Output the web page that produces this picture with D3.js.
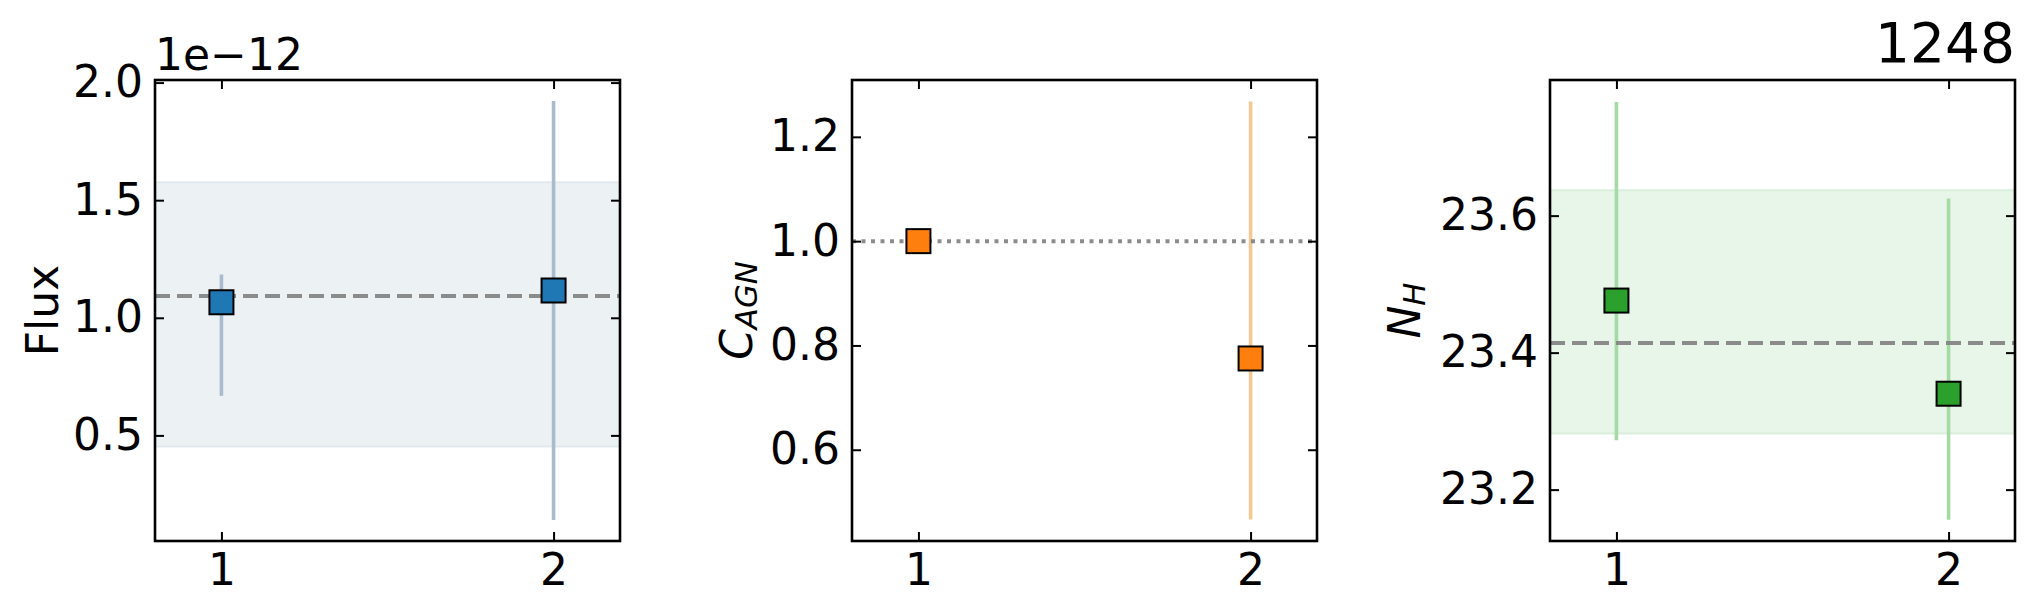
<!DOCTYPE html>
<html>
<head>
<meta charset="utf-8">
<script src="https://cdn.jsdelivr.net/npm/d3@7"></script>
<style>
  html, body { margin: 0; padding: 0; background: #fff; }
  text { font-family: "DejaVu Sans", sans-serif; }
</style>
</head>
<body>
<svg id="chart" width="2034" height="614"></svg>
<script>
// ---------- data ----------
const xCats = [1, 2];
const xTicks = [1, 2];

// Panel 1: Flux
const fluxValues = [1.066e-12, 1.116e-12];
const fluxLow    = [0.668e-12, 0.140e-12];
const fluxHigh   = [1.184e-12, 1.922e-12];
const fluxMean   = 1.093e-12;
const fluxBand   = [0.453e-12, 1.576e-12];
const fluxTicks  = [0.5e-12, 1.0e-12, 1.5e-12, 2.0e-12];
const fluxTickLabels = ["0.5", "1.0", "1.5", "2.0"];

// Panel 2: C_AGN
const cagnValues = [1.0, 0.775];
const cagnLow    = [null, 0.466];
const cagnHigh   = [null, 1.268];
const cagnRef    = 1.0;
const cagnTicks  = [0.6, 0.8, 1.0, 1.2];
const cagnTickLabels = ["0.6", "0.8", "1.0", "1.2"];

// Panel 3: N_H
const nhValues = [23.476, 23.340];
const nhLow    = [23.272, 23.156];
const nhHigh   = [23.766, 23.625];
const nhMean   = 23.414;
const nhBand   = [23.282, 23.637];
const nhTicks  = [23.2, 23.4, 23.6];
const nhTickLabels = ["23.2", "23.4", "23.6"];

const titleText = "1248";
const offsetText = "1e\u221212";

// ---------- layout ----------
const svg = d3.select("#chart");
const plotTop = 80, plotHeight = 461, plotWidth = 465;
const fs = 44;

const panels = [
  { left: 155, values: fluxValues, low: fluxLow, high: fluxHigh, line: fluxMean, lineStyle: "dash",
    band: fluxBand, ylim: [0.051e-12, 2.011e-12], ticks: fluxTicks, tickLabels: fluxTickLabels,
    color: "#1f77b4", errColor: "#a8bccd", bandFill: "#ecf1f4", bandEdge: "#e2e9ee",
    label: "Flux", labelX: 42 },
  { left: 852, values: cagnValues, low: cagnLow, high: cagnHigh, line: cagnRef, lineStyle: "dot",
    band: null, ylim: [0.425, 1.309], ticks: cagnTicks, tickLabels: cagnTickLabels,
    color: "#ff7f0e", errColor: "#f2c894", label: "C", sub: "AGN", labelX: 736 },
  { left: 1550, values: nhValues, low: nhLow, high: nhHigh, line: nhMean, lineStyle: "dash",
    band: nhBand, ylim: [23.125, 23.798], ticks: nhTicks, tickLabels: nhTickLabels,
    color: "#2ca02c", errColor: "#a4dba4", bandFill: "#e8f5e9", bandEdge: "#d9efdb",
    label: "N", sub: "H", labelX: 1404 }
];

panels.forEach((p, pi) => {
  const g = svg.append("g").attr("transform", `translate(${p.left},${plotTop})`);
  const x = d3.scaleLinear().domain([0.8, 2.2]).range([0, plotWidth]);
  const y = d3.scaleLinear().domain(p.ylim).range([plotHeight, 0]);

  const clipId = "clip" + pi;
  g.append("clipPath").attr("id", clipId).append("rect")
    .attr("x", 0).attr("y", 0).attr("width", plotWidth).attr("height", plotHeight);
  const plot = g.append("g").attr("clip-path", `url(#${clipId})`);

  // band
  if (p.band) {
    plot.append("rect")
      .attr("x", x(0.8)).attr("width", x(2.2) - x(0.8))
      .attr("y", y(p.band[1])).attr("height", y(p.band[0]) - y(p.band[1]))
      .attr("fill", p.bandFill).attr("stroke", p.bandEdge).attr("stroke-width", 2);
  }

  // error bars
  const errData = xCats.map((c, i) => ({ c, lo: p.low[i], hi: p.high[i] })).filter(d => d.lo !== null);
  plot.selectAll(".err").data(errData).enter().append("line")
    .attr("x1", d => x(d.c)).attr("x2", d => x(d.c))
    .attr("y1", d => y(d.lo)).attr("y2", d => y(d.hi))
    .attr("stroke", p.errColor).attr("stroke-width", 3.6);

  // reference line
  plot.append("line")
    .attr("x1", x(0.8)).attr("x2", x(2.2))
    .attr("y1", y(p.line)).attr("y2", y(p.line))
    .attr("stroke", "#808080").attr("stroke-opacity", 0.9)
    .attr("stroke-width", 4)
    .attr("stroke-dasharray", p.lineStyle === "dash" ? "15,7" : "4,5.5");

  // markers
  const sz = 24;
  plot.selectAll(".pt").data(xCats.map((c, i) => ({ c, v: p.values[i] }))).enter().append("rect")
    .attr("x", d => x(d.c) - sz / 2).attr("y", d => y(d.v) - sz / 2)
    .attr("width", sz).attr("height", sz)
    .attr("fill", p.color).attr("stroke", "#000").attr("stroke-width", 2);

  // axes
  const tickLen = 9;
  const yAxis = d3.axisLeft(y).tickValues(p.ticks)
    .tickFormat((d, i) => p.tickLabels[i]).tickSizeInner(-tickLen).tickSizeOuter(0).tickPadding(12);
  const yAxisR = d3.axisRight(y).tickValues(p.ticks).tickFormat("").tickSizeInner(-tickLen).tickSizeOuter(0);
  const xAxis = d3.axisBottom(x).tickValues(xTicks).tickFormat(d3.format("d"))
    .tickSizeInner(-tickLen).tickSizeOuter(0).tickPadding(12);
  const xAxisT = d3.axisTop(x).tickValues(xTicks).tickFormat("").tickSizeInner(-tickLen).tickSizeOuter(0);

  const ay = g.append("g").call(yAxis);
  const ayr = g.append("g").attr("transform", `translate(${plotWidth},0)`).call(yAxisR);
  const ax = g.append("g").attr("transform", `translate(0,${plotHeight})`).call(xAxis);
  const axt = g.append("g").call(xAxisT);
  [ay, ayr, ax, axt].forEach(a => {
    a.select(".domain").remove();
    a.selectAll(".tick line").attr("stroke", "#000").attr("stroke-width", 2);
    a.selectAll(".tick text").attr("font-size", fs).attr("fill", "#000")
      .attr("font-family", "DejaVu Sans");
  });
  ax.selectAll(".tick text").attr("dy", null).attr("y", 44);

  // frame
  g.append("rect").attr("x", 0).attr("y", 0).attr("width", plotWidth).attr("height", plotHeight)
    .attr("fill", "none").attr("stroke", "#000").attr("stroke-width", 2.6);

  // y label
  const lbl = svg.append("text")
    .attr("transform", `translate(${p.labelX},${plotTop + plotHeight / 2}) rotate(-90)`)
    .attr("text-anchor", "middle").attr("font-size", fs).attr("fill", "#000")
    .attr("dominant-baseline", "central");
  if (p.sub) {
    lbl.append("tspan").attr("font-style", "italic").text(p.label);
    lbl.append("tspan").attr("font-style", "italic").attr("font-size", fs * 0.7)
      .attr("dy", 10).text(p.sub);
  } else {
    lbl.text(p.label);
  }
});

// offset text for panel 1
svg.append("text").attr("x", 155).attr("y", 70)
  .attr("font-size", fs).attr("fill", "#000").text(offsetText);

// title on panel 3
svg.append("text").attr("x", 2015).attr("y", 62).attr("text-anchor", "end")
  .attr("font-size", 55).attr("fill", "#000").text(titleText);
</script>
</body>
</html>
